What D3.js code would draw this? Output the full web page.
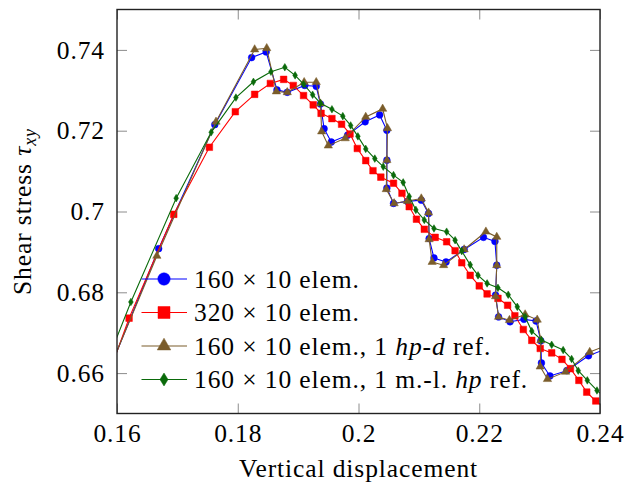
<!DOCTYPE html>
<html><head><meta charset="utf-8">
<script src="https://cdn.jsdelivr.net/npm/d3@7"></script>
<style>
body{margin:0;background:#fff}
svg{display:block}
text{font-family:"Liberation Serif","Times New Roman",serif;fill:#000;letter-spacing:0.9px}
</style>
</head><body>
<svg id="c" width="638" height="489"></svg>
<script>
// ---- data ----
const xTicks=[0.16,0.18,0.2,0.22,0.24];
const xTickLabels=["0.16","0.18","0.2","0.22","0.24"];
const yTicks=[0.66,0.68,0.70,0.72,0.74];
const yTickLabels=["0.66","0.68","0.7","0.72","0.74"];

const blueX=[0.1572,0.1669,0.1762,0.1823,0.1847,0.1865,0.1882,0.1911,0.1930,0.1937,0.1943,0.1955,0.1982,0.2011,0.2035,0.2047,0.2047,0.2047,0.2058,0.2081,0.2104,0.2116,0.2117,0.2125,0.2145,0.2175,0.2207,0.2226,0.2229,0.2227,0.2232,0.2251,0.2274,0.2294,0.2302,0.2303,0.2317,0.2345,0.2381,0.2417];
const blueY=[0.6551,0.6908,0.7215,0.7381,0.7395,0.7301,0.7295,0.7312,0.7310,0.7266,0.7205,0.7172,0.7189,0.7222,0.7239,0.7201,0.7127,0.7058,0.7020,0.7025,0.7028,0.6995,0.6933,0.6885,0.6875,0.6906,0.6936,0.6926,0.6867,0.6793,0.6739,0.6727,0.6733,0.6729,0.6680,0.6625,0.6593,0.6606,0.6643,0.6664];

const redX=[0.1555,0.1620,0.1694,0.1753,0.1796,0.1828,0.1854,0.1876,0.1892,0.1909,0.1925,0.1938,0.1956,0.1972,0.1986,0.1998,0.2012,0.2024,0.2037,0.2058,0.2072,0.2084,0.2096,0.2109,0.2127,0.2146,0.2160,0.2171,0.2185,0.2200,0.2213,0.2231,0.2247,0.2259,0.2273,0.2287,0.2301,0.2320,0.2337,0.2351,0.2365,0.2378,0.2393,0.2410];
const redY=[0.6468,0.6736,0.6993,0.7159,0.7247,0.7290,0.7317,0.7327,0.7312,0.7287,0.7264,0.7243,0.7230,0.7216,0.7192,0.7156,0.7126,0.7101,0.7085,0.7070,0.7045,0.7012,0.6981,0.6956,0.6936,0.6925,0.6903,0.6873,0.6842,0.6816,0.6796,0.6785,0.6768,0.6742,0.6708,0.6681,0.6661,0.6650,0.6634,0.6611,0.6582,0.6553,0.6531,0.6511];

const brownX=[0.1572,0.1666,0.1764,0.1828,0.1848,0.1864,0.1882,0.1910,0.1930,0.1937,0.1939,0.1950,0.1978,0.2012,0.2040,0.2048,0.2047,0.2046,0.2059,0.2081,0.2104,0.2116,0.2117,0.2122,0.2141,0.2175,0.2211,0.2229,0.2229,0.2227,0.2232,0.2250,0.2276,0.2296,0.2302,0.2301,0.2313,0.2343,0.2383,0.2420];
const brownY=[0.6555,0.6890,0.7222,0.7401,0.7404,0.7297,0.7295,0.7320,0.7320,0.7267,0.7198,0.7163,0.7181,0.7234,0.7254,0.7206,0.7127,0.7055,0.7020,0.7026,0.7032,0.6997,0.6931,0.6875,0.6867,0.6906,0.6950,0.6937,0.6867,0.6790,0.6739,0.6731,0.6745,0.6732,0.6681,0.6616,0.6585,0.6603,0.6652,0.6674];

const greenX=[0.1564,0.1623,0.1698,0.1756,0.1797,0.1826,0.1855,0.1878,0.1895,0.1909,0.1924,0.1937,0.1956,0.1974,0.1987,0.1999,0.2012,0.2027,0.2041,0.2058,0.2074,0.2084,0.2095,0.2109,0.2125,0.2146,0.2160,0.2171,0.2185,0.2198,0.2213,0.2231,0.2248,0.2263,0.2276,0.2287,0.2303,0.2320,0.2339,0.2353,0.2364,0.2379,0.2395,0.2408];
const greenY=[0.6554,0.6776,0.7033,0.7196,0.7282,0.7321,0.7346,0.7357,0.7337,0.7315,0.7289,0.7268,0.7253,0.7236,0.7213,0.7186,0.7155,0.7131,0.7111,0.7090,0.7072,0.7037,0.7004,0.6979,0.6958,0.6950,0.6929,0.6902,0.6868,0.6842,0.6822,0.6811,0.6794,0.6764,0.6739,0.6704,0.6682,0.6670,0.6657,0.6635,0.6606,0.6582,0.6557,0.6540];

const seriesNames=["160 × 10 elem.","320 × 10 elem.","160 × 10 elem., 1 hp-d ref.","160 × 10 elem., 1 m.-l. hp ref."];

// ---- layout ----
const svg=d3.select("#c");
const L=117,R=600,T=9.5,B=413.5;
const x=d3.scaleLinear().domain([0.16,0.24]).range([L,R]);
const y=d3.scaleLinear().domain([0.65,0.75]).range([B,T]);
const FS=25.5;

const colors={blue:"#0000ff",red:"#ff0000",brown:"#7a5c2a",green:"#0a6a0a"};

svg.append("defs").append("clipPath").attr("id","clip")
  .append("rect").attr("x",L).attr("y",T).attr("width",R-L).attr("height",B-T);

// axes (inward ticks)
const tl=10;
const gx=svg.append("g").attr("transform",`translate(0,${B})`)
  .call(d3.axisBottom(x).tickValues(xTicks).tickFormat((d,i)=>xTickLabels[i]).tickSizeInner(-tl).tickSizeOuter(0).tickPadding(10.5));
const gy=svg.append("g").attr("transform",`translate(${L},0)`)
  .call(d3.axisLeft(y).tickValues(yTicks).tickFormat((d,i)=>yTickLabels[i]).tickSizeInner(-tl).tickSizeOuter(0).tickPadding(12));
const gxt=svg.append("g").attr("transform",`translate(0,${T})`)
  .call(d3.axisTop(x).tickValues(xTicks).tickFormat("").tickSizeInner(-tl).tickSizeOuter(0));
const gyr=svg.append("g").attr("transform",`translate(${R},0)`)
  .call(d3.axisRight(y).tickValues(yTicks).tickFormat("").tickSizeInner(-tl).tickSizeOuter(0));
[gx,gy,gxt,gyr].forEach(g=>{
  g.select(".domain").remove();
  g.selectAll(".tick line").attr("stroke","#8c8c8c").attr("stroke-width",1);
  g.selectAll(".tick text").style("font-family",'"Liberation Serif",serif').style("font-size",FS+"px").style("letter-spacing","0.9px").attr("fill","#000");
});

// series
const plot=svg.append("g").attr("clip-path","url(#clip)");
const line=d3.line().x(d=>x(d[0])).y(d=>y(d[1]));
function zip(a,b){return a.map((v,i)=>[v,b[i]]);}
const diamond={draw(ctx,size){const w=size*0.62,h=size;ctx.moveTo(0,-h);ctx.lineTo(w,0);ctx.lineTo(0,h);ctx.lineTo(-w,0);ctx.closePath();}};
function markerPath(type,s){
  if(type==="circle") return d3.symbol(d3.symbolCircle,Math.PI*s*s)();
  if(type==="square") return d3.symbol(d3.symbolSquare,s*s)();
  if(type==="triangle") return d3.symbol(d3.symbolTriangle,s)();
  return d3.symbol(diamond,s)();
}
const series=[
  {xs:blueX,ys:blueY,c:colors.blue,m:"circle",ms:3.4,ls:6.2},
  {xs:redX,ys:redY,c:colors.red,m:"square",ms:6.6,ls:12},
  {xs:brownX,ys:brownY,c:colors.brown,m:"triangle",ms:30,ls:80},
  {xs:greenX,ys:greenY,c:colors.green,m:"diamond",ms:3.8,ls:6.5}
];
series.forEach(s=>{
  const pts=zip(s.xs,s.ys);
  plot.append("path").datum(pts).attr("d",line).attr("fill","none").attr("stroke",s.c).attr("stroke-width",1.1);
  const inDom=pts.filter(p=>p[0]>=0.16&&p[0]<=0.24&&p[1]>=0.65&&p[1]<=0.75);
  plot.selectAll(null).data(inDom).enter().append("path")
    .attr("d",markerPath(s.m,s.ms))
    .attr("transform",p=>`translate(${x(p[0])},${y(p[1])})`)
    .attr("fill",s.c).attr("stroke",s.c).attr("stroke-width",0.5);
});

// frame
svg.append("rect").attr("x",L).attr("y",T).attr("width",R-L).attr("height",B-T)
  .attr("fill","none").attr("stroke","#222").attr("stroke-width",1.4);

// legend
const lg=svg.append("g");
const rowsY=[279,312.5,346,379.5];
series.forEach((s,i)=>{
  const yy=rowsY[i];
  lg.append("line").attr("x1",141.5).attr("x2",187).attr("y1",yy).attr("y2",yy).attr("stroke",s.c).attr("stroke-width",1.1);
  lg.append("path").attr("d",markerPath(s.m,s.ls)).attr("transform",`translate(164,${yy})`).attr("fill",s.c).attr("stroke",s.c).attr("stroke-width",0.5);
});
function legendText(i,parts){
  const t=lg.append("text").attr("x",194).attr("y",rowsY[i]+8.5).style("font-size",FS+"px");
  parts.forEach(p=>{t.append("tspan").text(p[0]).style("font-style",p[1]?"italic":"normal");});
}
legendText(0,[[seriesNames[0],false]]);
legendText(1,[[seriesNames[1],false]]);
legendText(2,[["160 × 10 elem., 1 ",false],["hp-d",true],[" ref.",false]]);
legendText(3,[["160 × 10 elem., 1 m.-l. ",false],["hp",true],[" ref.",false]]);

// axis labels
svg.append("text").attr("x",(L+R)/2).attr("y",477).attr("text-anchor","middle").style("font-size",FS+"px").text("Vertical displacement");
const yl=svg.append("text").attr("transform",`translate(31,${(T+B)/2}) rotate(-90)`).attr("text-anchor","middle").style("font-size",FS+"px");
yl.append("tspan").text("Shear stress ");
yl.append("tspan").style("font-style","italic").text("τ");
yl.append("tspan").style("font-style","italic").style("font-size","18px").attr("dy",5).text("xy");
</script>
</body></html>
